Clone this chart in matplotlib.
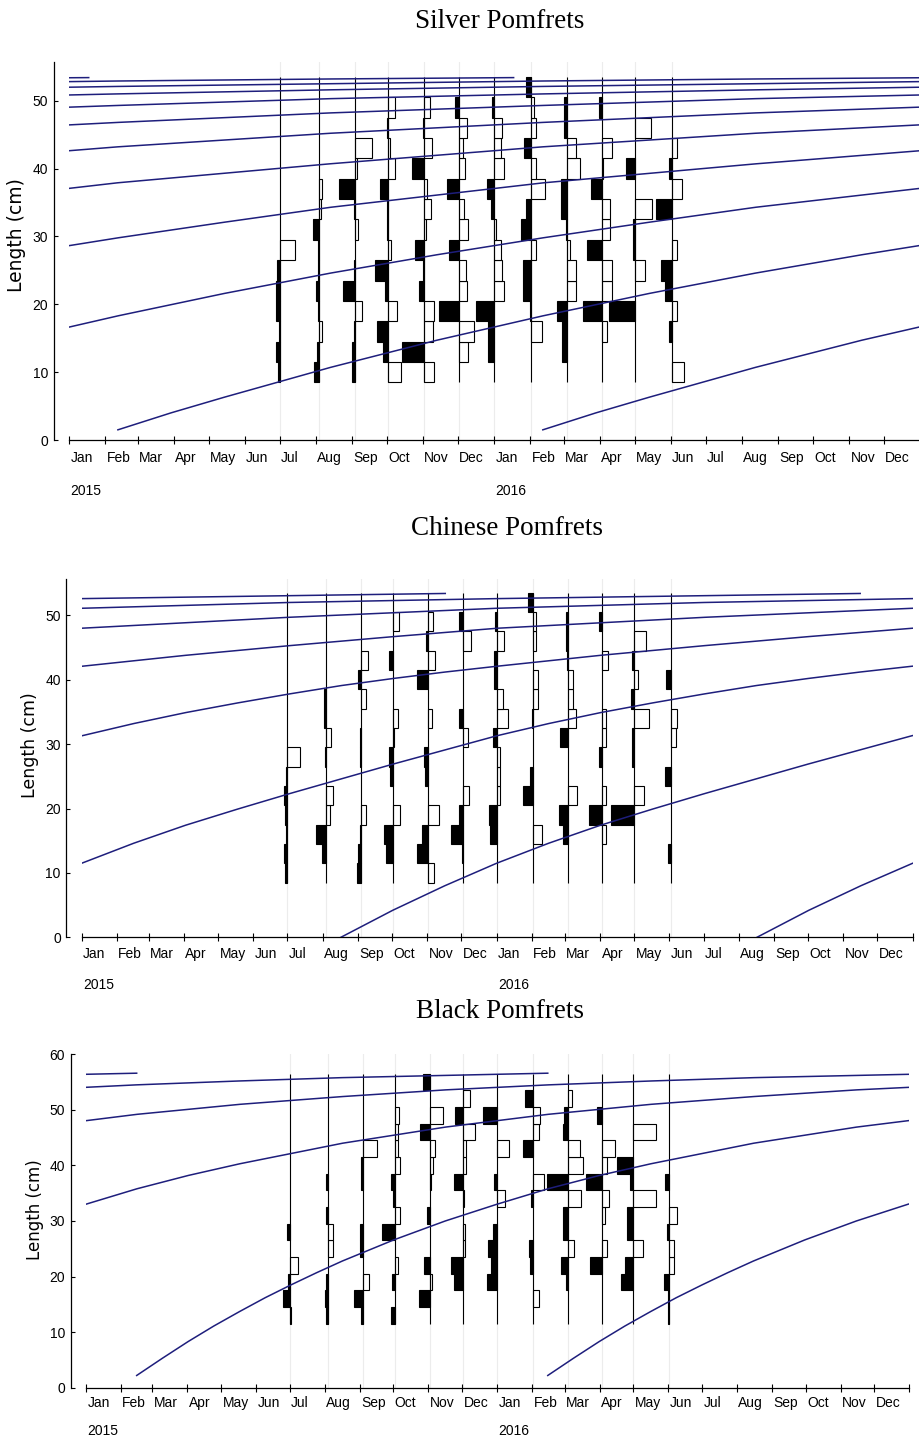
import numpy as np
import pandas as pd
import matplotlib
matplotlib.use('Agg')
import matplotlib.pyplot as plt

months = ['Jan', 'Feb', 'Mar', 'Apr', 'May', 'Jun', 'Jul', 'Aug', 'Sep', 'Oct', 'Nov', 'Dec']
sample_dates = ['2015-07-01', '2015-08-04', '2015-09-04', '2015-10-02', '2015-11-02', '2015-12-02',
                '2016-01-01', '2016-02-02', '2016-03-04', '2016-04-03', '2016-05-01', '2016-06-02']

# lower edges of the 3 cm length classes
silver_bins = [8.5, 11.5, 14.5, 17.5, 20.5, 23.5, 26.5, 29.5, 32.5, 35.5, 38.5, 41.5, 44.5, 47.5, 50.5]
chinese_bins = [8.5, 11.5, 14.5, 17.5, 20.5, 23.5, 26.5, 29.5, 32.5, 35.5, 38.5, 41.5, 44.5, 47.5, 50.5]
black_bins = [11.5, 14.5, 17.5, 20.5, 23.5, 26.5, 29.5, 32.5, 35.5, 38.5, 41.5, 44.5, 47.5, 50.5, 53.5]

# restructured scores per sample (negative = black peak, positive = white trough)
silver_scores = [
    [-2, -4, -1, -4, -4, -3, 15, 0, 0, 0, 0, 0, 0, 0, 0],
    [-5, -2, 3, -1, -3, -1, -1, -6, 2, 3, 0, 0, 0, 0, 0],
    [-3, -3, -1, 7, -12, -1, 0, 3, -1, -16, 2, 16, 0, 0, 0],
    [13, -5, -11, 9, -3, -13, 3, -1, -1, -8, 7, 2, -1, 7, 0],
    [10, -22, 9, 10, -5, -1, -9, 2, 7, 3, -12, 8, -1, 6, 0],
    [0, 9, 15, -20, 8, 7, -10, 9, 5, -12, 6, 4, 8, -4, 0],
    [0, -6, -6, -18, 10, 8, 7, 2, -3, -7, 10, 7, 8, -2, 0],
    [0, 0, 11, -1, -8, -8, 5, -10, -5, 14, 5, -7, 5, 3, -5],
    [0, -5, -5, -10, 9, 9, 3, -1, -6, -6, 13, 9, -3, -3, 0],
    [0, 0, 5, -19, 10, 10, -15, 8, 8, -11, 1, 10, 0, -3, 0],
    [0, 0, 0, -25, 0, 10, -2, -2, 17, 0, -9, 0, 16, 0, 0],
    [12, 0, -3, 5, -7, -11, 5, 0, -16, 10, -3, 5, 0, 0, 0],
]
chinese_scores = [
    [-2, -4, -1, -2, -3, -1, 13, 0, 0, 0, 0, 0, 0, 0, 0],
    [0, -4, -10, 4, 7, 0, -1, 5, -2, -2, 0, 0, 0, 0, 0],
    [-4, -3, -1, 5, 0, 0, -1, -1, 0, 5, -3, 7, 0, 0, 0],
    [0, -7, -9, 7, 0, -3, -4, 1, 5, 0, 0, -4, 0, 6, 0],
    [6, -12, -7, 11, 0, -3, -4, 0, 4, 0, -12, 7, -2, 5, 0],
    [0, -1, -12, -4, 7, 0, 0, 6, -4, 0, 0, 0, 9, -4, 0],
    [0, 0, -7, -8, 3, 3, 3, -4, 11, 6, -3, -3, 7, -2, 0],
    [0, 0, 9, 0, -10, -3, 0, 0, -1, 5, 5, 0, 3, 3, -5],
    [0, 0, -5, -9, 9, 0, 0, -8, 8, 5, 5, -1, -2, -2, 0],
    [0, 0, 4, -14, 4, 0, -3, 4, 4, 0, 0, 6, 0, -3, 0],
    [0, 0, 0, -23, 10, 0, -2, -2, 15, -3, 4, -2, 12, 0, 0],
    [0, -3, 0, 0, 0, -6, 0, 5, 7, 0, -5, 0, 0, 0, 0],
]
black_scores = [
    [1, -7, -2, 8, 0, -3, 0, 0, 0, 0, 0, 0, 0, 0, 0],
    [-2, -3, -2, 0, 5, 5, -2, 0, -2, 0, 0, 0, 0, 0, 0],
    [-2, -9, 6, 0, -3, -3, 0, 0, -2, -2, 14, 0, 0, 0, 0],
    [-4, 0, -3, 3, 0, -13, 6, -2, -4, 6, 3, 3, 5, 0, 0],
    [0, -11, 3, -6, 0, 0, -3, 0, 2, 4, 6, -10, 14, 0, -7],
    [0, 0, -10, -13, 2, 2, 0, 1, -9, 3, 3, 12, -8, 7, 0],
    [0, 0, -10, -6, -9, -4, 0, 8, -3, 0, 12, 0, -14, 0, 0],
    [0, 6, 0, -3, -4, 0, 0, -2, 11, 0, -10, 6, 7, -8, 0],
    [0, 0, -2, -7, 6, -5, -5, 13, -21, 15, 12, -5, -4, 4, 0],
    [0, 0, 0, -12, 5, 0, 3, 7, -16, 5, 13, 0, -5, 0, 0],
    [0, 0, -13, -9, 10, -6, -6, 23, -3, -17, 0, 23, 0, 0, 0],
    [-1, -1, -6, 5, 5, -2, 8, 0, -5, 0, 0, 0, 0, 0, 0],
]

# growth curves: length (cm) against age (years since birth), one curve per cohort
silver_age = [0, 0.125, 0.25, 0.375, 0.5, 0.625, 0.75, 0.875, 1.0, 1.25, 1.5, 1.75, 2.0, 2.25, 2.5,
              2.75, 3.0, 3.5, 4.0, 4.5, 5.0, 5.5, 6.0, 6.5, 7.0, 7.5, 8.0, 8.5, 9.0, 9.5, 9.93]
silver_len = [1.5, 4.0, 6.3, 8.5, 10.7, 12.7, 14.7, 16.5, 18.3, 21.6, 24.6, 27.3, 29.8, 32.1, 34.3,
              36.1, 37.9, 40.7, 43.2, 45.2, 46.8, 48.2, 49.3, 50.3, 51.0, 51.6, 52.1, 52.5, 52.9, 53.2, 53.4]
silver_births = ['2005-02-12', '2006-02-12', '2007-02-12', '2008-02-12', '2009-02-12', '2010-02-12',
                 '2011-02-12', '2012-02-12', '2013-02-12', '2014-02-12', '2015-02-12', '2016-02-12']

chinese_age = [0, 0.125, 0.25, 0.375, 0.5, 0.625, 0.75, 0.875, 1.0, 1.125, 1.25, 1.375, 1.5, 1.625,
               1.75, 1.875, 2.0, 2.125, 2.25, 2.375, 2.625, 2.875, 3.125, 3.375, 3.875, 4.375,
               4.875, 5.375, 6.25]
chinese_len = [0, 4.2, 8.0, 11.5, 14.6, 17.4, 19.9, 22.3, 24.6, 26.9, 29.1, 31.3, 33.2, 34.9,
               36.4, 37.8, 39.1, 40.2, 41.2, 42.1, 43.8, 45.3, 46.7, 48.0, 49.7, 51.1,
               52.0, 52.6, 53.4]
chinese_births = ['2009-08-17', '2010-08-17', '2011-08-17', '2012-08-17', '2013-08-17',
                  '2014-08-17', '2015-08-17', '2016-08-17']

black_age = [0, 0.0625, 0.125, 0.1875, 0.25, 0.3125, 0.375, 0.4375, 0.5, 0.625, 0.75, 0.875, 1.0,
             1.125, 1.25, 1.5, 1.75, 2.0, 2.25, 2.5, 2.75, 3.0, 3.25, 3.5, 3.75, 4.0]
black_len = [2.2, 5.3, 8.3, 11.1, 13.7, 16.2, 18.5, 20.7, 22.8, 26.6, 30.0, 33.0, 35.8,
             38.2, 40.3, 44.0, 46.9, 49.2, 51.0, 52.4, 53.6, 54.5, 55.2, 55.8, 56.2, 56.6]
black_births = ['2011-02-15', '2012-02-15', '2013-02-15', '2014-02-15', '2015-02-15', '2016-02-15']

origin = pd.Timestamp('2015-01-01')
tick_font = ['Liberation Sans', 'DejaVu Sans']
curve_color = '#1e1e7c'
day_per_unit = 0.87
W, H = 920, 1438


def to_day(d):
    return (pd.Timestamp(d) - origin).days


def draw_panel(fig, box, bins, scores, ages, lengths, births, ytop, yticks, mlab_off, ylab_off):
    left, right, bottom, top = box
    ax = fig.add_axes([left / W, 1 - bottom / H, (right - left) / W, (bottom - top) / H])
    sdays = [to_day(d) for d in sample_dates]

    for d in sdays:
        ax.axvline(d, color='#ececec', lw=0.8, zorder=0)

    for d, row in zip(sdays, scores):
        for lo, s in zip(bins, row):
            if s == 0:
                continue
            ax.barh(lo, s * day_per_unit, left=d, height=3, align='edge',
                    color='black' if s < 0 else 'white', edgecolor='black', lw=0.8, zorder=2)
    ax.vlines(sdays, bins[0], bins[-1] + 3, color='black', lw=0.8, zorder=3)

    for b in births:
        x = to_day(b) + np.array(ages) * 365.25
        ax.plot(x, lengths, color=curve_color, lw=1.1, zorder=4)

    ax.set_xlim(0, 731)
    ax.set_ylim(0, ytop)
    ax.spines['top'].set_visible(False)
    ax.spines['right'].set_visible(False)
    ax.spines['left'].set_position(('outward', 11))
    for s in ['left', 'bottom']:
        ax.spines[s].set_linewidth(0.9)

    month_starts = pd.date_range('2015-01-01', '2017-01-01', freq='MS')
    ax.set_xticks([to_day(m) for m in month_starts])
    ax.set_xticklabels([])
    ax.tick_params(axis='x', direction='inout', length=6, width=0.8)
    ax.set_yticks(yticks)
    ax.set_yticklabels([str(t) for t in yticks], family=tick_font, fontsize=10)
    ax.tick_params(axis='y', direction='in', length=3, width=0.8, pad=4)

    for m in month_starts[:-1]:
        ax.annotate(months[m.month - 1], xy=(to_day(m), 0), xycoords=('data', 'axes fraction'),
                    xytext=(1, -mlab_off[0]), textcoords='offset points',
                    ha='left', va='center', family=tick_font, fontsize=10)
        if m.month == 1:
            ax.annotate(str(m.year), xy=(to_day(m), 0), xycoords=('data', 'axes fraction'),
                        xytext=(1, -mlab_off[1]), textcoords='offset points',
                        ha='left', va='center', family=tick_font, fontsize=10)
    fig.text(ylab_off[0] / W, 1 - ylab_off[1] / H, 'Length (cm)', rotation=90,
             ha='center', va='center', fontsize=ylab_off[2], family='DejaVu Sans')
    return ax


fig = plt.figure(figsize=(W / 100, H / 100), dpi=100)

draw_panel(fig, (69, 920, 440, 62), silver_bins, silver_scores, silver_age, silver_len,
           silver_births, 55.7, [0, 10, 20, 30, 40, 50], (13, 37), (17, 235, 13.5))
draw_panel(fig, (81.7, 912.7, 937.3, 579.3), chinese_bins, chinese_scores, chinese_age, chinese_len,
           chinese_births, 55.6, [0, 10, 20, 30, 40, 50], (12, 34.5), (30, 745, 12.5))
draw_panel(fig, (86, 909.3, 1387.7, 1054.3), black_bins, black_scores, black_age, black_len,
           black_births, 60, [0, 10, 20, 30, 40, 50, 60], (11, 31.5), (35, 1210, 12))

for title, (x, y) in [('Silver Pomfrets', (500, 22)), ('Chinese Pomfrets', (507, 528)),
                      ('Black Pomfrets', (500, 1012))]:
    fig.text(x / W, 1 - y / H, title, ha='center', va='center',
             family=['Liberation Serif', 'DejaVu Serif'], fontsize=19.5)

fig.savefig('out.png', dpi=100)
